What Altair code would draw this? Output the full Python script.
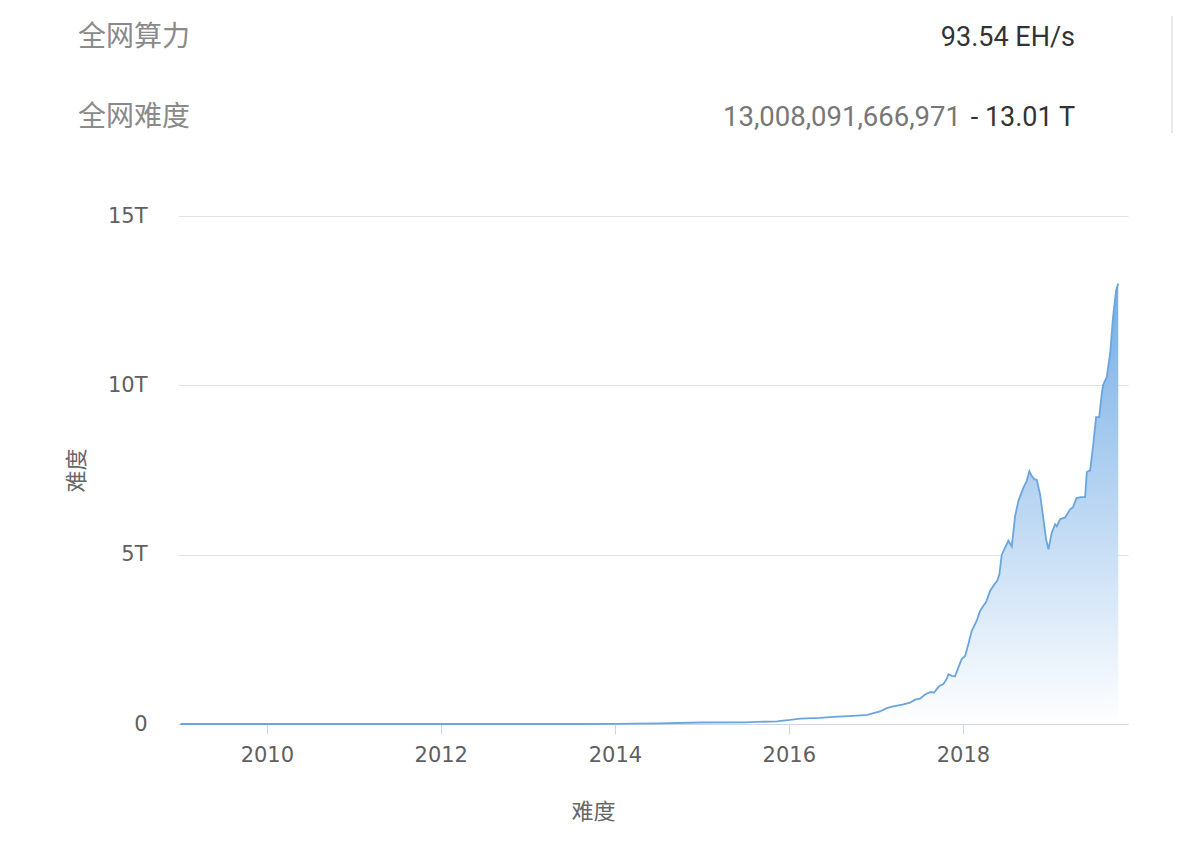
import altair as alt
import pandas as pd

# Bitcoin network difficulty (in T)
dates = [
    "2009-01-03", "2010-01-01", "2011-01-01", "2012-01-01", "2013-01-01", "2013-07-01",
    "2014-01-01", "2014-07-01", "2015-01-01", "2015-07-01", "2015-11-12",
    "2016-01-06", "2016-02-18", "2016-05-12", "2016-07-05", "2016-09-27", "2016-11-25",
    "2017-01-18", "2017-02-15", "2017-03-15", "2017-04-26", "2017-05-24", "2017-06-14",
    "2017-07-05", "2017-07-26", "2017-08-16", "2017-09-02", "2017-09-13", "2017-09-24",
    "2017-10-11", "2017-10-25", "2017-11-01", "2017-11-15", "2017-11-29", "2017-12-13",
    "2017-12-27", "2018-01-10", "2018-01-24", "2018-02-07", "2018-02-28", "2018-03-14",
    "2018-03-28", "2018-04-08", "2018-04-25", "2018-05-09", "2018-05-25", "2018-06-03",
    "2018-06-13", "2018-06-27", "2018-07-11", "2018-07-25", "2018-08-08", "2018-08-22",
    "2018-09-12", "2018-09-26", "2018-10-07", "2018-10-17", "2018-10-27", "2018-11-07",
    "2018-11-21", "2018-12-05", "2018-12-16", "2018-12-26", "2019-01-09", "2019-01-23",
    "2019-01-30", "2019-02-13", "2019-03-06", "2019-03-27", "2019-04-08", "2019-04-23",
    "2019-05-11", "2019-05-29", "2019-06-05", "2019-06-19", "2019-07-01", "2019-07-14",
    "2019-07-27", "2019-08-07", "2019-08-12", "2019-08-28", "2019-09-11", "2019-09-23",
    "2019-10-06", "2019-10-15",
]
difficulty_t = [
    0.0, 0.0, 0.00002, 0.0000012, 0.0000034, 0.00003,
    0.0014, 0.017, 0.044, 0.05, 0.08,
    0.12, 0.16, 0.18, 0.21, 0.24, 0.27,
    0.37, 0.47, 0.52, 0.58, 0.63, 0.72,
    0.75, 0.87, 0.94, 0.93, 1.03, 1.12,
    1.18, 1.33, 1.47, 1.42, 1.41, 1.67,
    1.92, 2.01, 2.36, 2.75, 3.05, 3.34,
    3.49, 3.59, 3.93, 4.08, 4.23, 4.42,
    5.0, 5.21, 5.41, 5.24, 6.14, 6.59,
    6.98, 7.18, 7.47, 7.32, 7.23, 7.21,
    6.78, 6.05, 5.46, 5.16, 5.65, 5.9,
    5.84, 6.05, 6.1, 6.34, 6.4, 6.67,
    6.7, 6.7, 7.44, 7.49, 8.18, 9.06,
    9.06, 9.76, 10.0, 10.25, 10.94, 12.0,
    12.8, 13.01,
]
y_ticks = [0, 5, 10, 15]
x_tick_years = [2010, 2012, 2014, 2016, 2018]

header_rows = [
    ("全网算力", "93.54 EH/s"),
    ("全网难度", "- 13.01 T"),
]
difficulty_full = "13,008,091,666,971"

df = pd.DataFrame({"date": dates, "diff": difficulty_t})

CJK = "Noto Sans CJK SC"
LATIN = "DejaVu Sans"

x_enc = alt.X(
    "date:T",
    scale=alt.Scale(
        type="utc",
        domain=[alt.DateTime(year=2008, month=12, date=24, utc=True),
                alt.DateTime(year=2019, month=11, date=25, utc=True)],
    ),
    axis=alt.Axis(
        values=[alt.DateTime(year=y, month=1, date=1, utc=True) for y in x_tick_years],
        format="%Y",
        grid=False,
        domainColor="#ccd6eb",
        tickColor="#ccd6eb",
        tickSize=10,
        labelPadding=10,
        labelFont=LATIN,
        labelFontSize=21,
        labelColor="#606060",
        title="难度",
        titleFont=CJK,
        titleFontSize=22,
        titleFontWeight="normal",
        titleColor="#666666",
        titleX=415,
        titleY=87,
        titleAlign="center",
        titleBaseline="middle",
    ),
)
y_enc = alt.Y(
    "diff:Q",
    scale=alt.Scale(domain=[0, 15], nice=False),
    axis=alt.Axis(
        values=y_ticks,
        labelExpr="datum.value == 0 ? '0' : datum.value + 'T'",
        grid=True,
        gridColor="#e3e3e3",
        gridWidth=1,
        domain=False,
        ticks=False,
        labelPadding=31,
        labelFont=LATIN,
        labelFontSize=21,
        labelColor="#606060",
        title="难度",
        titleFont=CJK,
        titleFontSize=22,
        titleFontWeight="normal",
        titleColor="#666666",
        titleAngle=270,
        titleX=-102,
        titleY=254,
        titleAlign="center",
        titleBaseline="middle",
    ),
)

area = alt.Chart(df).mark_area(
    color=alt.Gradient(
        gradient="linear",
        stops=[alt.GradientStop(color="#74ade6", offset=0),
               alt.GradientStop(color="#ffffff", offset=1)],
        x1=0, x2=0, y1=0, y2=1,
    ),
    interpolate="linear",
).encode(x=x_enc, y=y_enc)

line = alt.Chart(df).mark_line(
    color="#6aa5dd", strokeWidth=1.8, interpolate="linear"
).encode(x="date:T", y="diff:Q")


def label(text, x, y, align, color, font, size):
    return alt.Chart(alt.Data(values=[{"t": text}])).mark_text(
        align=align, baseline="middle", font=font, fontSize=size, color=color
    ).encode(text="t:N", x=alt.value(x), y=alt.value(y))


texts = [
    label(header_rows[0][0], -100, -178, "left", "#8a8a8a", CJK, 28),
    label(header_rows[0][1], 897, -178, "right", "#333333", "Roboto", 27),
    label(header_rows[1][0], -100, -98, "left", "#8a8a8a", CJK, 28),
    label(header_rows[1][1], 897, -98, "right", "#333333", "Roboto", 27),
    label(difficulty_full, 783, -98, "right", "#777777", "Roboto", 27.5),
]

vline = alt.Chart(alt.Data(values=[{"a": 1}])).mark_rule(
    color="#e8e8e8", strokeWidth=2
).encode(x=alt.value(994), y=alt.value(-200), y2=alt.value(-83))

chart = alt.layer(area, line, *texts, vline).properties(
    width=950,
    height=508,
    autosize=alt.AutoSizeParams(type="none"),
    padding={"left": 170, "top": 208, "right": 46, "bottom": 100},
    background="white",
).configure_view(stroke=None)

chart.save("out.html", embed_options={"renderer": "svg", "actions": False})
